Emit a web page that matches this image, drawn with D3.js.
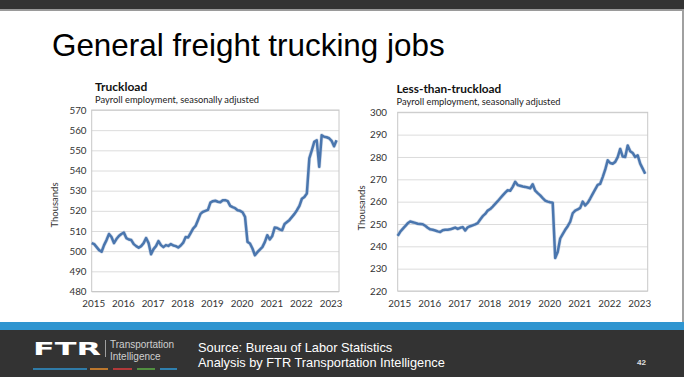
<!DOCTYPE html>
<html>
<head>
<meta charset="utf-8">
<script src="https://cdn.jsdelivr.net/npm/d3@7"></script>
<style>
  body { margin: 0; background: #fff; }
  svg { display: block; }
</style>
</head>
<body>
<div id="slide"></div>
<script>
// monthly payroll employment, thousands, Jan 2015 - Apr 2023
const startYear = 2015;
const yearTicks = [2015, 2016, 2017, 2018, 2019, 2020, 2021, 2022, 2023];

const truckload = [
  504, 503.5, 502, 500.5, 499.7, 503, 505.5, 508.5, 507, 504, 506, 507.5,
  508.5, 509.2, 506.5, 505.8, 505.5, 503.5, 502.5, 501.7, 502.5, 504, 506.5, 504,
  498.5, 501, 502.5, 505, 503, 502, 503, 502.6, 503.5, 502.8, 502.5, 501.8,
  502.8, 504.2, 507, 506.8, 509, 511.2, 512.5, 515.5, 518.5, 519.5, 520, 520.5,
  524.1, 524.8, 525, 524.5, 524.3, 525.2, 525.3, 524.8, 522.5, 521.8, 521.3, 520.3,
  520, 519.3, 517, 504.6, 503.8, 501.3, 498, 499.5, 500.8, 502, 504.5, 507.9,
  505.8, 507.5, 511.7, 511.5, 510.8, 510.4, 513.5, 514.5, 515.5, 517, 518.5, 520.3,
  522.5, 526, 526.9, 528.6, 546, 550, 554.2, 555, 541.8, 557.5, 556.7, 556.5,
  556, 554.7, 552, 555
];

const ltl = [
  244.7, 246.5, 247.8, 249, 250.3, 251.1, 250.8, 250.5, 250.1, 250, 249.9, 249.2,
  248.3, 247.6, 247.4, 247.1, 246.7, 246.4, 247.2, 247.4, 247.4, 247.6, 248, 248.4,
  247.8, 248.3, 248.6, 247.1, 248.5, 249, 249.4, 249.8, 250.4, 252, 253.5, 254.5,
  256, 256.7, 257.8, 259, 260.2, 261.5, 262.8, 264, 265.1, 264.9, 266.6, 268.9,
  267.4, 267.1, 266.8, 266.6, 266.3, 266, 267.8, 264.9, 263.8, 262.8, 261.6, 260.5,
  260, 259.7, 259.5, 234.8, 237.5, 243.5, 245.5, 247.4, 249, 251, 254.8, 256,
  256.5, 257.2, 260, 258.3, 259.5, 261.4, 263.5, 265.5, 267.5, 268, 271, 274.3,
  278.5, 277.3, 277, 277.8, 279.9, 283.6, 280.2, 280, 285.1, 282.6, 281.8, 280,
  280.7, 277, 274.8, 272.5
];

const W = 684, H = 377;
const chartFont = "Lato, 'Open Sans', sans-serif";
const lineColor = "#4a76ae";

const svg = d3.select("#slide").append("svg")
  .attr("width", W)
  .attr("height", H);

// slide frame
svg.append("rect").attr("x", 0).attr("y", 0).attr("width", W).attr("height", 9.5).attr("fill", "#333");
svg.append("rect").attr("x", 0).attr("y", 9.5).attr("width", W).attr("height", 1.5).attr("fill", "#9a9a9a");
svg.append("rect").attr("x", 682).attr("y", 9.5).attr("width", 2).attr("height", H).attr("fill", "#a0a0a0");

svg.append("text")
  .attr("x", 52)
  .attr("y", 56)
  .style("font-family", "'Liberation Sans', Arial, sans-serif")
  .style("font-size", "31.4px")
  .attr("fill", "#000")
  .text("General freight trucking jobs");

function drawChart(cfg) {
  const g = svg.append("g");
  const x = d3.scaleLinear()
    .domain([startYear, startYear + 100 / 12])
    .range([cfg.left, cfg.right]);
  const y = d3.scaleLinear()
    .domain(cfg.domain)
    .range([cfg.bottom, cfg.top]);

  // gridlines
  g.append("g")
    .attr("transform", `translate(${cfg.left},0)`)
    .call(d3.axisLeft(y).ticks(9).tickSize(-(cfg.right - cfg.left)).tickFormat(""))
    .call(a => a.select(".domain").remove())
    .selectAll("line")
      .attr("stroke", "#dcdcdc")
      .attr("stroke-width", 1);

  // frame
  g.append("rect")
    .attr("x", cfg.left)
    .attr("y", cfg.top)
    .attr("width", cfg.right - cfg.left)
    .attr("height", cfg.bottom - cfg.top)
    .attr("fill", "none")
    .attr("stroke", "#c8c8c8");

  // y labels
  g.append("g")
    .attr("transform", `translate(${cfg.left},0)`)
    .call(d3.axisLeft(y).ticks(9).tickSize(0).tickPadding(cfg.left - cfg.labelX))
    .call(a => a.select(".domain").remove())
    .selectAll("text")
      .style("font-family", chartFont)
      .style("font-size", "9.8px")
      .attr("fill", "#333");

  // x labels
  g.append("g")
    .attr("transform", `translate(0,${cfg.bottom})`)
    .call(d3.axisBottom(x).tickValues(yearTicks).tickFormat(d3.format("d")).tickSize(0).tickPadding(9))
    .call(a => a.select(".domain").remove())
    .selectAll("text")
      .attr("dx", 1.5)
      .style("font-family", chartFont)
      .style("font-size", "9.8px")
      .attr("fill", "#333");

  const line = d3.line()
    .x((d, i) => x(startYear + i / 12))
    .y(d => y(d));

  g.append("path")
    .datum(cfg.values)
    .attr("d", line)
    .attr("fill", "none")
    .attr("stroke", "#a9bcd6")
    .attr("stroke-width", 3.8)
    .attr("stroke-opacity", 0.5)
    .attr("stroke-linejoin", "round");

  g.append("path")
    .datum(cfg.values)
    .attr("d", line)
    .attr("fill", "none")
    .attr("stroke", lineColor)
    .attr("stroke-width", 2.5)
    .attr("stroke-linejoin", "round");

  g.append("text")
    .attr("x", cfg.titleX)
    .attr("y", cfg.top - 19)
    .style("font-family", chartFont)
    .style("font-size", cfg.titleSize)
    .style("font-weight", "bold")
    .attr("fill", "#111")
    .text(cfg.title);

  g.append("text")
    .attr("x", cfg.titleX)
    .attr("y", cfg.top - 7.5)
    .style("font-family", chartFont)
    .style("font-size", "9.3px")
    .attr("fill", "#222")
    .text("Payroll employment, seasonally adjusted");

  g.append("text")
    .attr("transform", `translate(${cfg.axisTitleX},${cfg.axisTitleY}) rotate(-90)`)
    .attr("text-anchor", "middle")
    .style("font-family", chartFont)
    .style("font-size", "9.5px")
    .attr("fill", "#333")
    .text("Thousands");
}

drawChart({
  title: "Truckload", values: truckload, domain: [480, 570], titleSize: "12px",
  left: 91.7, right: 339, top: 110, bottom: 291.5,
  labelX: 86.5, titleX: 95, axisTitleX: 57.5, axisTitleY: 205
});

drawChart({
  title: "Less-than-truckload", values: ltl, domain: [220, 300], titleSize: "11.8px",
  left: 397.7, right: 647.7, top: 112.3, bottom: 291,
  labelX: 387, titleX: 396.5, axisTitleX: 365, axisTitleY: 208
});

// footer
svg.append("rect").attr("x", 0).attr("y", 322).attr("width", W).attr("height", 8).attr("fill", "#2f95d0");
svg.append("rect").attr("x", 0).attr("y", 330).attr("width", W).attr("height", H - 330).attr("fill", "#333");

svg.append("text")
  .attr("x", 33)
  .attr("y", 354.5)
  .attr("textLength", 68)
  .attr("lengthAdjust", "spacingAndGlyphs")
  .style("font-family", "'DejaVu Sans', sans-serif")
  .style("font-weight", "bold")
  .style("font-size", "18.5px")
  .attr("fill", "#fff")
  .text("FTR");

svg.append("line")
  .attr("x1", 105.5).attr("x2", 105.5)
  .attr("y1", 340).attr("y2", 357)
  .attr("stroke", "#bbb").attr("stroke-width", 0.8);

const logoText = ["Transportation", "Intelligence"];
svg.selectAll(".logoText")
  .data(logoText)
  .join("text")
    .attr("x", 110)
    .attr("y", (d, i) => 347.5 + i * 12)
    .style("font-family", "'Liberation Sans Narrow', 'Liberation Sans', sans-serif")
    .style("font-size", "10px")
    .attr("fill", "#d0d0d0")
    .text(d => d);

const dashColors = ["#2f95d0", "#e08a2c", "#d23b3b", "#5aa845", "#2f95d0"];
const dashX = [[33, 87], [90, 108], [113, 132], [137, 155], [160, 177]];
svg.selectAll(".dash")
  .data(dashX)
  .join("line")
    .attr("x1", d => d[0]).attr("x2", d => d[1])
    .attr("y1", 369).attr("y2", 369)
    .attr("stroke", (d, i) => dashColors[i])
    .attr("stroke-width", 1.6);

const sourceLines = ["Source: Bureau of Labor Statistics", "Analysis by FTR Transportation Intelligence"];
svg.selectAll(".src")
  .data(sourceLines)
  .join("text")
    .attr("x", 198)
    .attr("y", (d, i) => 352 + i * 15)
    .style("font-family", "'Liberation Sans', Arial, sans-serif")
    .style("font-size", "12.8px")
    .attr("fill", "#fff")
    .text(d => d);

svg.append("text")
  .attr("x", 637)
  .attr("y", 365)
  .style("font-family", "'Liberation Sans', Arial, sans-serif")
  .style("font-size", "8px")
  .style("font-weight", "bold")
  .attr("fill", "#e0e0e0")
  .text("42");
</script>
</body>
</html>
